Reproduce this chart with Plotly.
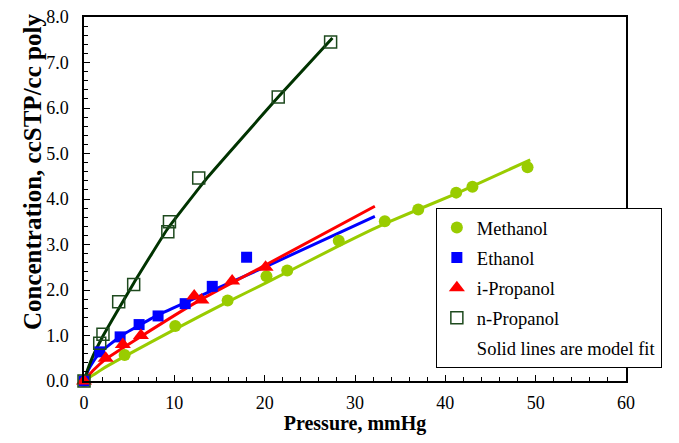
import plotly.graph_objects as go

# ---- measured data ----
methanol_p = [0, 4.5, 10.1, 15.9, 20.2, 22.5, 28.2, 33.3, 37.0, 41.2, 43.0, 49.1]
methanol_c = [0, 0.57, 1.21, 1.77, 2.30, 2.43, 3.08, 3.51, 3.77, 4.14, 4.27, 4.70]

ethanol_p = [0, 1.74, 4.0, 6.1, 8.2, 11.2, 14.2, 18.0]
ethanol_c = [0, 0.64, 0.97, 1.24, 1.43, 1.70, 2.08, 2.72]

ipropanol_p = [0, 2.4, 4.3, 6.3, 12.2, 13.0, 16.4, 20.1]
ipropanol_c = [0, 0.50, 0.80, 1.00, 1.87, 1.78, 2.20, 2.50]

npropanol_p = [0, 1.74, 2.1, 3.84, 5.5, 9.28, 9.46, 12.7, 21.5, 27.3]
npropanol_c = [0, 0.83, 1.03, 1.74, 2.12, 3.28, 3.50, 4.46, 6.24, 7.45]

# ---- model fit lines ----
methanol_fit_p = [0, 2, 4.5, 10, 15.9, 20.2, 28.2, 33.3, 41.2, 49.4]
methanol_fit_c = [0, 0.26, 0.54, 1.13, 1.74, 2.16, 2.97, 3.46, 4.12, 4.86]

ethanol_fit_p = [0, 0.5, 1, 1.75, 4, 8, 11.2, 20.2, 32.2]
ethanol_fit_c = [0, 0.25, 0.42, 0.62, 0.98, 1.43, 1.72, 2.52, 3.62]

ipropanol_fit_p = [0, 1, 2.4, 6.3, 12.5, 20.2, 32.2]
ipropanol_fit_c = [0, 0.23, 0.48, 0.98, 1.74, 2.56, 3.84]

npropanol_fit_p = [0, 0.5, 1, 2, 3.5, 5.5, 9.2, 13.7, 21.5, 27.5]
npropanol_fit_c = [0, 0.3, 0.55, 0.95, 1.47, 2.15, 3.33, 4.48, 6.24, 7.54]

x_ticks = [0, 10, 20, 30, 40, 50, 60]
y_ticks = [0, 1, 2, 3, 4, 5, 6, 7, 8]

FONT = "Times New Roman, Liberation Serif, serif"
C_METH = "#99CC00"
C_ETH = "#0000FF"
C_IPR = "#FF0000"
C_NPR = "#003300"

# page body has an 8px margin on every side: size the figure so the page never overflows
# and the plot area lands at x 84..637, y 17..381 of the window
OFF = 8
W, H = 679 - 2 * OFF, 443 - 2 * OFF
ML, MT = 84 - OFF, 17 - OFF
MR = OFF + W - 637
MB = OFF + H - 381
PW, PH = W - ML - MR, H - MT - MB

def px_x(px):  # window pixel -> paper x
    return (px - OFF - ML) / PW

def px_y(py):  # window pixel -> paper y
    return (H - MB - (py - OFF)) / PH

fig = go.Figure()

def fit(x, y, color, group):
    fig.add_trace(go.Scatter(x=x, y=y, mode="lines", line=dict(color=color, width=3, shape="spline", smoothing=0.3),
                             showlegend=False, legendgroup=group, hoverinfo="skip", cliponaxis=False))

fit(methanol_fit_p, methanol_fit_c, C_METH, "g1")
fit(ethanol_fit_p, ethanol_fit_c, C_ETH, "g2")
fit(ipropanol_fit_p, ipropanol_fit_c, C_IPR, "g3")
fit(npropanol_fit_p, npropanol_fit_c, C_NPR, "g4")

fig.add_trace(go.Scatter(x=methanol_p, y=methanol_c, mode="markers", name="Methanol", legendgroup="g1",
                         marker=dict(symbol="circle", size=12, color=C_METH), cliponaxis=False))
fig.add_trace(go.Scatter(x=ethanol_p, y=ethanol_c, mode="markers", name="Ethanol", legendgroup="g2",
                         marker=dict(symbol="square", size=11, color=C_ETH), cliponaxis=False))
fig.add_trace(go.Scatter(x=ipropanol_p, y=ipropanol_c, mode="markers", name="i-Propanol", legendgroup="g3",
                         marker=dict(symbol="triangle-up", size=14, color=C_IPR), cliponaxis=False))
fig.add_trace(go.Scatter(x=npropanol_p, y=npropanol_c, mode="markers", name="n-Propanol", legendgroup="g4",
                         marker=dict(symbol="square-open", size=12, color="#1E4A1E", line=dict(width=1.5)),
                         cliponaxis=False))
fig.add_trace(go.Scatter(x=[None], y=[None], mode="markers", name="Solid lines are model fit",
                         legendgroup="g5", marker=dict(size=1, color="rgba(0,0,0,0)")))

axis_common = dict(showline=True, linecolor="black", linewidth=1.5, mirror=True, showgrid=False,
                   zeroline=False, ticks="inside", ticklen=6, tickwidth=1.2, tickcolor="black",
                   automargin=False, ticklabeloverflow="allow",
                   tickfont=dict(family=FONT, size=18, color="black"))

fig.update_xaxes(range=[0, 60], tickvals=x_ticks, ticktext=[str(v) for v in x_ticks],
                 minor=dict(dtick=2, ticks="inside", ticklen=4, tickcolor="black", tickwidth=1),
                 ticklabelstandoff=5,
                 title=dict(text="<b>Pressure, mmHg</b>", font=dict(family=FONT, size=20, color="black"), standoff=5),
                 **axis_common)
fig.update_yaxes(range=[0, 8], tickvals=y_ticks, ticktext=["%.1f" % v for v in y_ticks],
                 minor=dict(dtick=0.2, ticks="inside", ticklen=4, tickcolor="black", tickwidth=1),
                 ticklabelstandoff=10,
                 **axis_common)

# y-axis title as an annotation, positioned like the reference
fig.add_annotation(text="<b>Concentration, ccSTP/cc poly</b>", textangle=-90,
                   xref="paper", yref="paper", x=px_x(31), y=px_y(172),
                   xanchor="center", yanchor="middle", showarrow=False,
                   font=dict(family=FONT, size=25, color="black"))

fig.update_layout(
    width=W, height=H,
    margin=dict(l=ML, r=MR, t=MT, b=MB),
    plot_bgcolor="white", paper_bgcolor="white",
    font=dict(family=FONT, color="black"),
    legend=dict(x=px_x(443), y=px_y(208), xanchor="left", yanchor="top",
                bgcolor="white", bordercolor="black", borderwidth=1,
                font=dict(family=FONT, size=18.5, color="black"),
                traceorder="grouped", tracegroupgap=3),
)

fig.write_html("out.html", config={"responsive": False, "displayModeBar": False})
